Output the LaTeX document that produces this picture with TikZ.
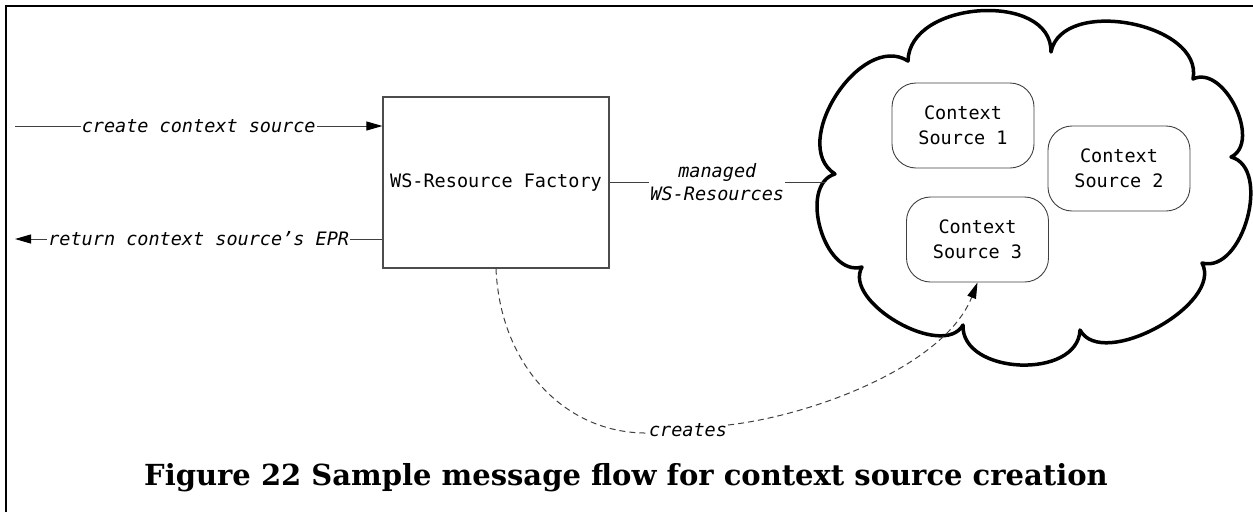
\documentclass[tikz,border=0pt]{standalone}
\usepackage{fontspec}
\setmonofont{DejaVu Sans Mono}
\newfontfamily\capfont{DejaVu Serif}
\usetikzlibrary{arrows.meta}
\begin{document}
\begin{tikzpicture}[x=1pt,y=-1pt,
  mono/.style={font=\fontsize{18.5}{25}\selectfont\ttfamily},
  lbl/.style={font=\fontsize{18.5}{23}\selectfont\ttfamily\itshape, fill=white, inner sep=1pt, align=center},
  factory/.style={draw=black!70, line width=1.2pt, minimum width=226pt, minimum height=171pt, mono},
  src/.style={draw=black!75, line width=0.9pt, rounded corners=24pt, minimum width=142pt, minimum height=85pt, mono, align=center},
  conn/.style={draw=black!75, line width=1pt},
  tip/.style={-{Triangle[length=16pt,width=9pt,color=black,fill=black]}},
  cloudline/.style={line width=3.5pt, line join=round},
  frame/.style={line width=2pt}
]
\useasboundingbox (0,0) rectangle (1253,512);
\draw[frame] (6,512) -- (6,6) -- (1253,6);

% cloud
\draw[cloudline] (908,61) .. controls (909,0) and (1052,-9) .. (1051,52)
 .. controls (1062,-4) and (1204,23) .. (1193,79)
 .. controls (1224,64) and (1262,142) .. (1231,157)
 .. controls (1272,168) and (1243,274) .. (1202,263)
 .. controls (1224,304) and (1102,371) .. (1080,330)
 .. controls (1078,380) and (961,375) .. (963,325)
 .. controls (943,360) and (842,302) .. (862,267)
 .. controls (824.5,278) and (797.5,185) .. (835,174)
 .. controls (788,144) and (861,31) .. (908,61) -- cycle;

\node[factory] (fac) at (496,182.5) {WS-Resource Factory};
\node[src] (cs1) at (963,125.5) {Context\\Source 1};
\node[src] (cs2) at (1119,168.5) {Context\\Source 2};
\node[src] (cs3) at (977.5,239.5) {Context\\Source 3};

\coordinate (inL) at (15,126);
\coordinate (outL) at (15,239);
\coordinate (cloudW) at (825,182.5);

\draw[conn,tip] (inL) -- (fac.west |- inL) node[lbl, midway] {create context source};
\draw[conn,tip] (fac.west |- outL) -- (outL) node[lbl, midway] {return context source’s EPR};
\draw[conn] (fac.east) -- (cloudW) node[lbl, midway] {managed\\WS-Resources};

\node[lbl, fill=none] (cr) at (688,430) {creates};
\draw[conn, dash pattern=on 6pt off 4pt] (fac.south) .. controls (500,365) and (565,434) .. ([yshift=-3pt]cr.west);
\draw[conn, dash pattern=on 6pt off 4pt, tip] ([yshift=5pt]cr.east) .. controls (815,415) and (945,365) .. (cs3.south);

\node[anchor=base, font=\capfont\bfseries\fontsize{29}{32}\selectfont] (cap) at (626,485) {Figure 22 Sample message flow for context source creation};
\end{tikzpicture}
\end{document}
